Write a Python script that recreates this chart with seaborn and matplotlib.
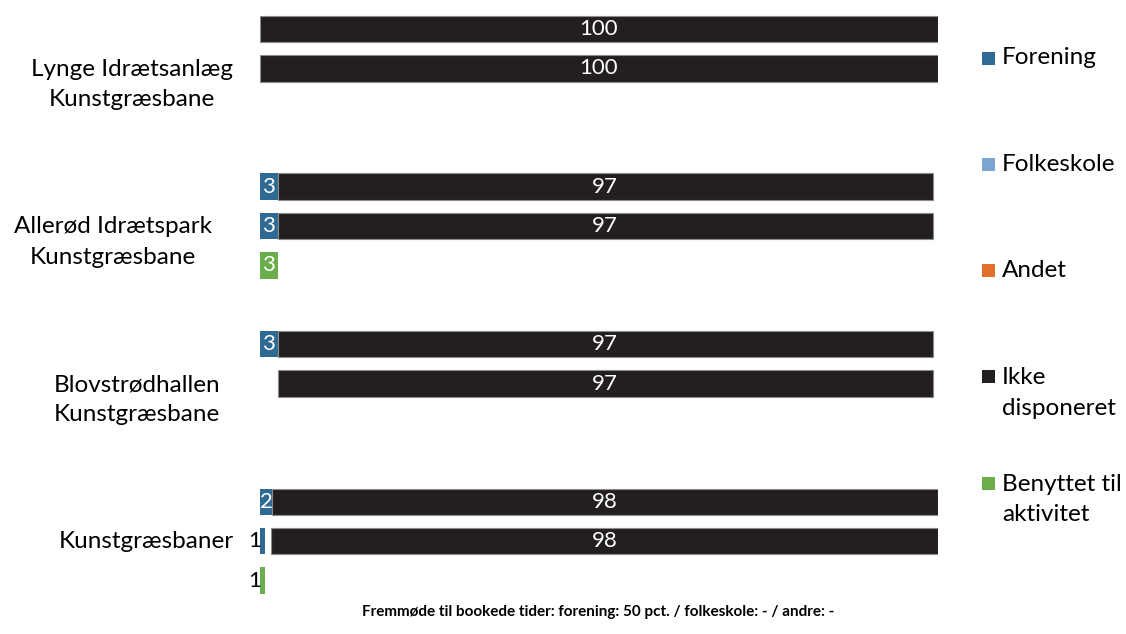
import matplotlib
matplotlib.use("Agg")
import matplotlib.pyplot as plt
import matplotlib.transforms as mtransforms
from matplotlib.patches import Rectangle
import numpy as np
import pandas as pd
import seaborn as sns

# --- data -------------------------------------------------------------
groups = ["Lynge Idrætsanlæg\nKunstgræsbane",
          "Allerød Idrætspark\nKunstgræsbane",
          "Blovstrødhallen\nKunstgræsbane",
          "Kunstgræsbaner"]

# row 1 in each group: booked time
booked_forening = [0, 2.6, 2.6, 1.8]
booked_ikke = [100, 96.6, 96.6, 98.2]
# row 2: attended time (absent = booked but not attended, left blank)
used_forening = [0, 2.6, 0, 0.7]
used_absent = [0, 0, 2.6, 0.9]
used_ikke = [100, 96.6, 96.6, 98.4]
# row 3: used for activity
activity = [0, 2.6, 0, 0.7]

legend_labels = ["Forening", "Folkeskole", "Andet", "Ikke\ndisponeret", "Benyttet til\naktivitet"]
footer = "Fremmøde til bookede tider: forening: 50 pct. / folkeskole: - / andre: -"

BLUE = "#2E6A93"
LIGHTBLUE = "#7BA5D0"
ORANGE = "#E0702C"
BLACK = "#231F20"
GREEN = "#6AAD4A"
legend_colors = [BLUE, LIGHTBLUE, ORANGE, BLACK, GREEN]

# --- long table: one line per bar row ---------------------------------
rows = []
for g in range(len(groups)):
    base = g * 4
    rows.append(dict(pos=base, blue=booked_forening[g], gap=0, black=booked_ikke[g], green=0))
    rows.append(dict(pos=base + 1, blue=used_forening[g], gap=used_absent[g], black=used_ikke[g], green=0))
    rows.append(dict(pos=base + 2, blue=0, gap=0, black=0, green=activity[g]))
df = pd.DataFrame(rows)
df["black_start"] = df["blue"] + df["gap"]

# --- plot -------------------------------------------------------------
sns.set_theme(style="white")
plt.rcParams["font.family"] = ["Lato", "DejaVu Sans"]

fig = plt.figure(figsize=(11.26, 6.34), dpi=100)
ax = fig.add_axes([260 / 1126, 1 - 600.3 / 634, 678 / 1126, 591 / 634])

bar_w = 0.67
common = dict(y="pos", orient="y", native_scale=True, width=bar_w,
              saturation=1, errorbar=None, linewidth=0, ax=ax)
sns.barplot(data=df, x="blue", color=BLUE, **common)
n_before = len(ax.patches)
sns.barplot(data=df, x="black", color=BLACK, **common)
black_patches = ax.patches[n_before:]
sns.barplot(data=df, x="green", color=GREEN, **common)

# stack the black segment after forening (+ blank absent part)
start_by_pos = dict(zip(df["pos"], df["black_start"]))
for p in black_patches:
    pos = int(round(p.get_y() + p.get_height() / 2))
    p.set_x(start_by_pos[pos])
    if p.get_width() > 0:
        p.set_edgecolor("#8c8c8c")
        p.set_linewidth(0.8)

ax.set_xlim(0, 100)
ax.set_ylim(14.5, -0.5)
ax.set_xticks([])
ax.set_yticks([])
ax.set_xlabel("")
ax.set_ylabel("")
sns.despine(ax=ax, left=True, bottom=True)

fs = 17.5
bar_fs = 16


def seg_label(start, value, y):
    if value <= 0:
        return
    txt = f"{value:.0f}"
    if value >= 1.5:
        ax.text(start + value / 2, y, txt, ha="center", va="center",
                color="white", fontsize=bar_fs)
    else:
        ax.text(start + value * 0.2, y, txt, ha="right", va="center",
                color="black", fontsize=bar_fs)


for _, r in df.iterrows():
    seg_label(0, r["blue"], r["pos"])
    seg_label(r["black_start"], r["black"], r["pos"])
    seg_label(0, r["green"], r["pos"])

# group labels (first line level with the middle bar)
label_x = [132, 113, 137, 146]
trans = mtransforms.blended_transform_factory(fig.transFigure, ax.transData)
for g, name in enumerate(groups):
    n = name.count("\n")
    fig.text(label_x[g] / 1126, g * 4 + 1 + 0.41 * n, name, ha="center", va="center",
             fontsize=fs, linespacing=1.55, color="black", transform=trans)

# legend on the right
for i, (lab, col) in enumerate(zip(legend_labels, legend_colors)):
    y_px = 58 + i * 106.3
    n = lab.count("\n")
    fig.patches.append(Rectangle((982 / 1126, 1 - (y_px + 6.5) / 634), 13 / 1126, 13 / 634,
                                 transform=fig.transFigure, facecolor=col,
                                 edgecolor="none", figure=fig))
    fig.text(1002 / 1126, 1 - (y_px + 16 * n) / 634, lab, ha="left", va="center",
             fontsize=fs, linespacing=1.55, color="black")

fig.text(598 / 1126, 1 - 612 / 634, footer, ha="center", va="center",
         fontsize=11, fontweight="bold", color="black")

fig.savefig("out.png", dpi=100, facecolor="white")
